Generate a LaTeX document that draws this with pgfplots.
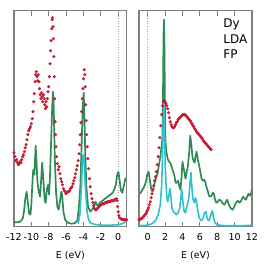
\documentclass[border=0pt]{standalone}
\usepackage{pgfplots}
\pgfplotsset{compat=1.18}
\usepackage{fontspec}
\setmainfont{DejaVu Sans}
\definecolor{dgreen}{RGB}{46,139,87}
\definecolor{dred}{RGB}{200,28,52}
\definecolor{dcyan}{RGB}{48,192,206}
\definecolor{frame}{RGB}{128,128,128}
\pgfplotsset{
  dosstyle/.style={
    scale only axis, anchor=south west,
    height=216pt, ymin=0, ymax=216, ytick=\empty,
    axis line style={frame, line width=1.1pt},
    xtick pos=both, xticklabel pos=lower,
    tick align=inside, major tick length=5pt,
    tick style={frame, line width=0.8pt},
    xticklabel style={font=\fontsize{9.5}{11}\selectfont, yshift=-3.5pt},
    xlabel={E (eV)},
    xlabel style={font=\fontsize{9.5}{11}\selectfont, yshift=-4pt},
    clip=true,
  },
  redpts/.style={only marks, mark=*, mark size=1.35pt, color=dred},
  grn/.style={dgreen, line width=1.7pt, line join=round},
  cyn/.style={dcyan, line width=1.6pt, line join=round},
}
\begin{document}
\begin{tikzpicture}[x=1pt,y=1pt]
\path[use as bounding box] (0,0) rectangle (266,266);
\begin{axis}[dosstyle, at={(14pt,39.3pt)}, width=112.7pt,
  xmin=-12, xmax=1,
  xtick={-12,-10,-8,-6,-4,-2,0},
  xticklabels={{-12},{-10},{-8},{-6},{-4},{-2},{0}}]
\addplot[gray!70, dotted, line width=0.6pt] coordinates {(0,0) (0,216)};
\addplot[redpts] table {
-12.0 74
-11.9 70
-11.8 66
-11.7 67
-11.6 64
-11.5 62
-11.4 63
-11.3 65
-11.2 64
-11.1 67
-11.0 70
-10.9 72
-10.8 75
-10.7 79
-10.6 82
-10.5 87
-10.4 92
-10.3 96
-10.2 98
-10.1 100
-10.0 103
-9.9 108
-9.8 115
-9.72 125
-9.65 133
-9.58 145
-9.5 152
-9.42 155
-9.35 150
-9.28 146
-9.2 152
-9.12 145
-9.05 138
-8.98 132
-8.9 128
-8.82 134
-8.75 130
-8.68 125
-8.6 132
-8.52 128
-8.45 122
-8.38 118
-8.3 125
-8.22 120
-8.15 128
-8.08 135
-8.0 140
-7.92 150
-7.85 163
-7.78 176
-7.72 186
-7.65 198
-7.6 207
-7.55 209
-7.5 200
-7.45 188
-7.4 170
-7.35 150
-7.3 128
-7.25 105
-7.2 92
-7.15 80
-7.1 70
-7.0 63
-6.9 57
-6.8 60
-6.7 53
-6.6 48
-6.5 45
-6.4 42
-6.3 38
-6.2 36
-6.1 35
-6.0 33
-5.9 34
-5.8 35
-5.7 35
-5.6 36
-5.5 38
-5.4 39
-5.3 40
-5.2 43
-5.1 46
-5.0 49
-4.9 53
-4.8 57
-4.7 61
-4.6 66
-4.5 73
-4.42 82
-4.35 92
-4.28 104
-4.2 115
-4.12 128
-4.05 138
-3.98 148
-3.9 157
-3.83 152
-3.78 140
-3.72 122
-3.68 106
-3.62 92
-3.55 80
-3.48 68
-3.4 58
-3.3 48
-3.2 40
-3.1 33
-3.0 28
-2.9 24
-2.8 21
-2.7 18
-2.6 17
-2.5 17
-2.4 18
-2.3 19
-2.2 20
-2.1 21
-2.0 22
-1.9 22
-1.8 23
-1.7 23
-1.6 23
-1.5 24
-1.4 24
-1.3 24
-1.2 25
-1.1 25
-1.0 25
-0.9 25
-0.8 26
-0.7 26
-0.6 26
-0.5 26
-0.4 27
-0.3 27
-0.2 28
-0.12 26
-0.05 20
0.02 15
0.1 11
0.2 9
0.3 8
0.4 7.5
0.5 7
0.6 7
0.7 7
0.8 7
0.9 7
1.0 7
};
\addplot[grn] table {
-12.0 4.5
-11.6 4.5
-11.3 5
-11.0 8
-10.85 15
-10.7 28
-10.55 35
-10.4 24
-10.25 13
-10.1 12
-10.0 22
-9.9 40
-9.78 57
-9.65 52
-9.5 81
-9.4 64
-9.3 45
-9.15 35
-9.0 30
-8.9 42
-8.75 64
-8.6 45
-8.45 26
-8.35 24
-8.2 38
-8.05 42
-7.95 32
-7.85 50
-7.72 85
-7.6 118
-7.5 135
-7.42 120
-7.3 70
-7.15 35
-7.0 20
-6.85 17
-6.7 25
-6.55 35
-6.45 32
-6.3 15
-6.1 7
-5.8 4
-5.4 3
-5.0 3.5
-4.7 6
-4.54 17
-4.35 40
-4.23 73
-4.08 117
-3.96 134
-3.85 100
-3.77 70
-3.65 40
-3.46 20
-3.2 15
-3.0 17
-2.8 20
-2.6 25
-2.45 22
-2.3 21
-2.1 24
-1.8 26
-1.5 28
-1.2 30
-0.9 32
-0.6 34
-0.4 38
-0.25 42
-0.1 52
0.05 55
0.2 45
0.35 36
0.5 34
0.7 42
0.85 48
1.0 49
};
\addplot[cyn] table {
-4.6 3
-4.4 12
-4.25 35
-4.12 62
-4.02 72
-3.92 68
-3.8 45
-3.7 30
-3.55 14
-3.4 7
-3.2 4
-2.8 2.5
-2.0 1.5
-1.0 1.5
0.0 2
0.5 3
0.8 4.5
1.0 6
};
\end{axis}
\begin{axis}[dosstyle, at={(139pt,39.3pt)}, width=113pt,
  xmin=-1, xmax=12,
  xtick={0,2,4,6,8,10,12},
  xticklabels={{0},{2},{4},{6},{8},{10},{12}}]
\addplot[gray!70, dotted, line width=0.6pt] coordinates {(0,0) (0,216)};
\addplot[redpts] table {
-1.0 7
-0.9 7
-0.8 8
-0.7 8
-0.6 9
-0.5 10
-0.4 11
-0.3 12
-0.2 13
-0.1 15
0.0 17
0.1 19
0.2 22
0.3 25
0.4 29
0.5 33
0.6 37
0.7 41
0.8 46
0.9 50
1.0 55
1.1 62
1.2 70
1.3 79
1.4 89
1.5 101
1.6 112
1.7 121
1.8 125
1.9 126
2.0 125
2.1 123
2.2 121
2.3 118
2.4 114
2.5 109
2.6 105
2.7 102
2.8 100
2.9 99
3.0 99
3.1 100
3.2 102
3.3 104
3.4 105
3.5 107
3.6 108
3.7 109
3.8 110
3.9 111
4.0 112
4.1 112
4.2 112
4.3 112
4.4 111
4.5 110
4.6 109
4.7 108
4.8 107
4.9 106
5.0 104
5.1 103
5.2 101
5.3 100
5.4 98
5.5 97
5.6 95
5.7 94
5.8 93
5.9 92
6.0 91
6.1 90
6.2 89
6.3 88
6.4 86
6.5 85
6.6 84
6.7 83
6.8 82
6.9 81
7.0 80
7.1 79
7.2 78
7.3 77
};
\addplot[grn] table {
-1.0 33
-0.8 34
-0.6 37
-0.4 40
-0.2 45
-0.05 52
0.1 55
0.25 47
0.4 38
0.55 35
0.7 40
0.85 45
1.0 50
1.15 54
1.3 62
1.45 70
1.6 80
1.7 90
1.76 130
1.82 190
1.87 207
1.93 180
1.98 120
2.05 85
2.15 75
2.3 68
2.45 65
2.6 64
2.75 60
2.9 56
3.05 52
3.2 44
3.35 44
3.5 46
3.65 40
3.77 37
3.9 50
4.0 65
4.15 58
4.35 48
4.5 55
4.62 60
4.75 72
4.9 91
5.02 82
5.15 70
5.27 66
5.4 64
5.5 70
5.62 75
5.75 68
5.95 60
6.05 55
6.2 48
6.35 46
6.5 47
6.62 45
6.75 40
6.9 36
7.05 31
7.2 30
7.35 31
7.5 34
7.62 33
7.75 27
7.9 24
8.05 25
8.25 27
8.45 26
8.65 23
8.85 22
9.0 25
9.15 27
9.3 23
9.45 20
9.6 18
9.75 17
9.9 19
10.1 23
10.25 25
10.4 26
10.55 24
10.7 25
10.85 28
11.0 30
11.15 28
11.3 27
11.45 30
11.6 33
11.75 31
11.9 33
12.0 38
};
\addplot[cyn] table {
-1.0 1
0.0 1.5
0.5 3
0.9 6
1.2 12
1.45 22
1.6 40
1.72 75
1.8 110
1.87 125
1.95 95
2.02 60
2.1 44
2.2 30
2.3 25
2.42 30
2.55 38
2.65 32
2.8 18
2.95 15
3.1 14
3.3 12
3.5 14
3.65 17
3.78 26
3.92 37
4.05 25
4.2 15
4.35 14
4.5 20
4.62 24
4.75 30
4.88 45
4.98 54
5.08 40
5.2 28
5.35 24
5.5 29
5.62 25
5.75 17
5.9 10
6.05 7
6.2 6
6.4 9
6.55 14
6.7 15
6.85 8
7.0 6
7.15 8
7.3 13
7.45 16
7.6 8
7.75 4
7.95 2
8.3 1.5
9 1
10 1
11 1
12 1.5
};
\node[anchor=north west, align=left, inner sep=0pt,
  font=\fontsize{12}{15.5}\selectfont] at (rel axis cs:0.745,0.962) {Dy\\LDA\\FP};
\end{axis}
\end{tikzpicture}
\end{document}
